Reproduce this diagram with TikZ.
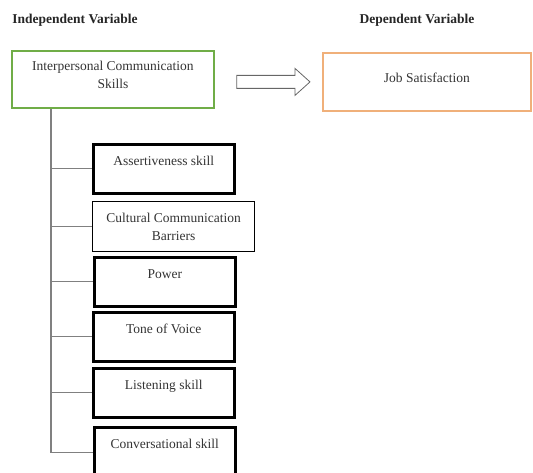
\documentclass[tikz,border=0pt]{standalone}
\usepackage{fontspec}
\setmainfont{Liberation Serif}
\usepackage{tikz}
\usetikzlibrary{positioning, calc}
\definecolor{ivgreen}{RGB}{112,173,71}
\definecolor{dvorange}{RGB}{240,176,122}
\definecolor{trunkgray}{RGB}{128,128,128}
\tikzset{
    heading/.style={
        font=\fontsize{13.5}{16}\selectfont\bfseries, text=black!85,
    },
    varbox/.style={
        rectangle, anchor=north west, align=center,
        inner xsep=3pt, inner ysep=4pt, line width=1.8pt,
        font=\fontsize{13.5}{18}\selectfont, text=black!80,
    },
    skillbox/.style={
        varbox, draw=black, line width=2.6pt,
        minimum width=141pt, minimum height=49pt,
        text height=17pt, text depth=24pt,
    },
    thinbox/.style={skillbox, line width=1.2pt},
    branch/.style={draw=trunkgray, line width=1.2pt},
    hollow/.style={draw=black!60, fill=white, line width=0.8pt},
}

\begin{document}
\begin{tikzpicture}[x=1pt, y=1pt]
    \clip (0,0) rectangle (533,-473);

    \node[heading] (ivhead) at (75,-20) {Independent Variable};
    \node[heading] (dvhead) at (417,-20) {Dependent Variable};

    \node[varbox, draw=ivgreen, minimum width=202pt, minimum height=57pt,
          text height=34pt, text depth=15pt] (icsk) at (11,-50)
        {Interpersonal Communication\\Skills};
    \node[varbox, draw=dvorange, minimum width=208pt, minimum height=58pt,
          text height=26pt, text depth=24pt] (jobs) at (322,-52)
        {Job Satisfaction};

    % hollow arrow between the variables
    \draw[hollow] ($(jobs.west)+(-12,0)$) coordinate (tip)
        -- ++(-15,13.5) -- ++(0,-7) -- ($(icsk.east |- tip)+(22,6.5)$)
        -- ++(0,-13) -- ($(tip)+(-15,-6.5)$) -- ++(0,-7) -- cycle;

    \node[skillbox] (s1) at (92,-143) {Assertiveness skill};
    \node[thinbox, minimum width=162pt, minimum height=50pt,
          text height=35pt, text depth=7pt] (s2) at (92,-201)
        {Cultural Communication\\Barriers};
    \node[skillbox] (s3) at (93,-256) {Power};
    \node[skillbox] (s4) at (92,-311) {Tone of Voice};
    \node[skillbox] (s5) at (92,-367) {Listening skill};
    \node[skillbox, minimum height=50pt, text depth=25pt] (s6) at (93,-426)
        {Conversational skill};

    \coordinate (trunk) at ($(icsk.south west)+(40,0)$);
    \draw[branch] (trunk) |- (s6.west);
    \foreach \s in {s1,s2,s3,s4,s5}
        \draw[branch] (trunk |- \s.west) -- (\s.west);
\end{tikzpicture}
\end{document}
